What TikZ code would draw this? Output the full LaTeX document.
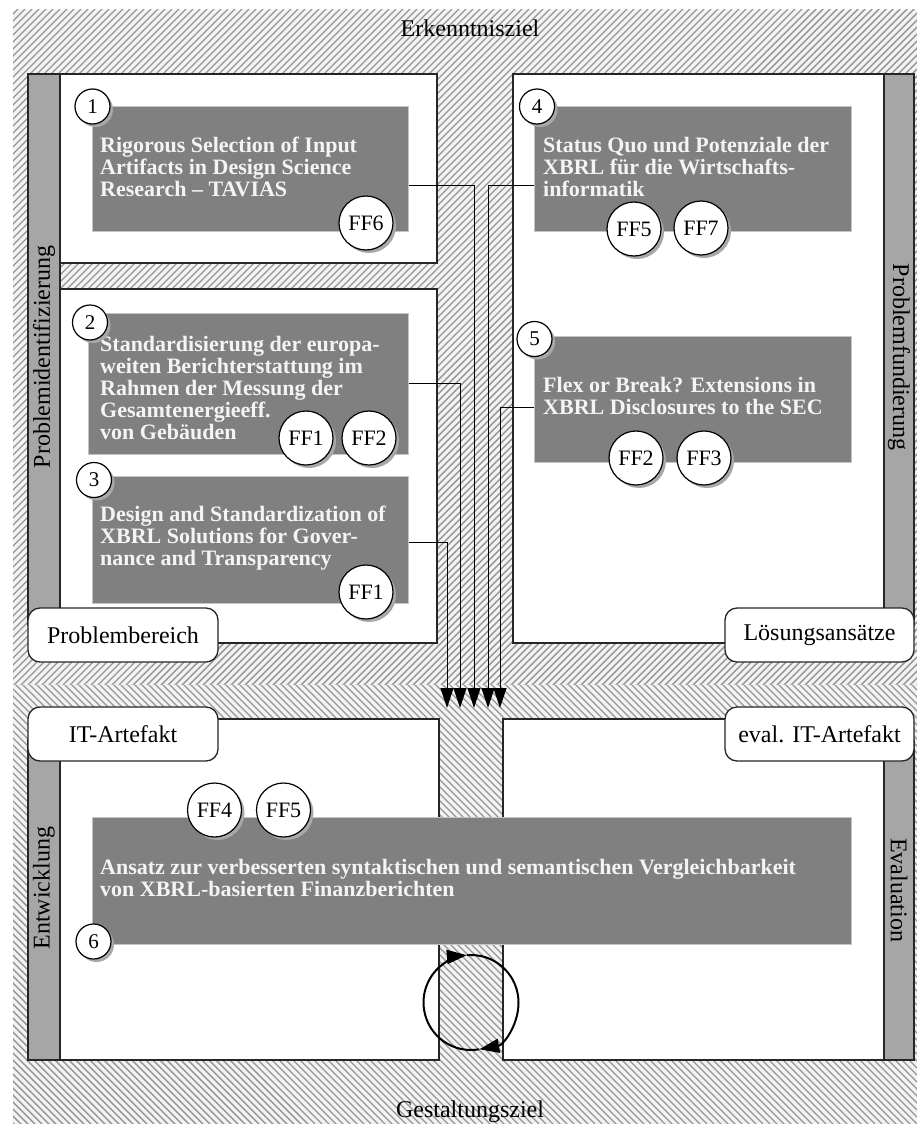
\documentclass[tikz,border=0pt]{standalone}
\usepackage{fontspec}
\setmainfont{Liberation Serif}
\usetikzlibrary{arrows.meta,shadows}

\definecolor{hatchbg}{HTML}{F3F3F3}
\definecolor{hatchline}{HTML}{959595}
\definecolor{framecol}{HTML}{262626}
\definecolor{barcol}{HTML}{A6A6A6}
\definecolor{cardcol}{HTML}{808080}
\definecolor{cardedge}{HTML}{C4C4C4}
\definecolor{cardink}{HTML}{F4F4F4}
\definecolor{shadowcol}{HTML}{A8A8A8}

% zero-width strut fixing the top of the first text line
\newcommand{\topstrut}{\rule{0pt}{17pt}}

\tikzset{
  hatchstroke/.style={draw=hatchline, line width=1.4pt},
  panel/.style={draw=framecol, line width=1.3pt, fill=white},
  sidebar/.style={draw=framecol, line width=1.3pt, fill=barcol},
  tag/.style={draw=framecol, line width=1.3pt, fill=white, rounded corners=12pt,
    minimum height=54pt, inner sep=0pt, font=\fontsize{24}{28}\selectfont},
  sidelabel/.style={inner sep=0pt, font=\fontsize{24}{28}\selectfont},
  goal/.style={inner sep=0pt, anchor=base, font=\fontsize{24}{28}\selectfont},
  card/.style={draw=cardedge, line width=1pt, fill=cardcol, inner sep=0pt},
  cardtext/.style={anchor=north west, inner sep=0pt, align=left, text=cardink,
    font=\fontsize{22}{22}\selectfont\bfseries},
  badge/.style={circle, draw=black, line width=1.2pt, fill=white, inner sep=0pt,
    drop shadow={shadow xshift=3pt, shadow yshift=-3pt, fill=shadowcol, opacity=1}},
  numbadge/.style={badge, minimum size=35pt, font=\fontsize{21}{24}\selectfont},
  ffbadge/.style={badge, minimum size=54pt, font=\fontsize{22}{24}\selectfont},
  flow/.style={draw=black, line width=1pt, -{Triangle[length=20pt,width=13pt]}},
  cyclearrow/.style={draw=black, line width=2pt, -{Triangle[length=20pt,width=14pt]}},
}

\begin{document}
\begin{tikzpicture}[x=1pt, y=-1pt]
\useasboundingbox (0,0) rectangle (917,1124);

% hatched background: knowledge goal above, design goal below
\begin{scope}
  \clip (13,10) rectangle (917,685);
  \fill[hatchbg] (13,10) rectangle (917,685);
  \foreach \k in {0,...,232} \draw[hatchstroke] ({-677+7*\k},690) -- ++(700,-700);
\end{scope}
\begin{scope}
  \clip (13,685) rectangle (917,1124);
  \fill[hatchbg] (13,685) rectangle (917,1124);
  \foreach \k in {0,...,202} \draw[hatchstroke] ({-437+7*\k},680) -- ++(450,450);
\end{scope}

% quadrant panels and side bars
\draw[panel] (60,74) rectangle (437,263);
\draw[panel] (60,289) rectangle (437,643);
\draw[sidebar] (28,74) rectangle (60,625);
\draw[panel] (513,74) rectangle (884,643);
\draw[sidebar] (884,74) rectangle (914,625);
\draw[panel] (60,719) rectangle (439,1060);
\draw[sidebar] (28,740) rectangle (60,1060);
\draw[panel] (503,719) rectangle (884,1060);
\draw[sidebar] (884,740) rectangle (914,1060);

% contribution cards
\node[card, minimum width=316pt, minimum height=125pt] (box1) at (250,168.5) {};
\node[card, minimum width=320pt, minimum height=141pt] (box2) at (248,383.5) {};
\node[card, minimum width=316pt, minimum height=127pt] (box3) at (250,539.5) {};
\node[card, minimum width=317pt, minimum height=125pt] (box4) at (692.5,168.5) {};
\node[card, minimum width=317pt, minimum height=126pt] (box5) at (692.5,399) {};
\node[card, minimum width=759pt, minimum height=127pt] (box6) at (471.5,880.5) {};

\node[cardtext] (txt1) at (100,135) {\topstrut Rigorous Selection of Input\\Artifacts in Design Science\\Research – TAVIAS};
\node[cardtext] (txt2) at (100,334) {\topstrut Standardisierung der europa-\\weiten Berichterstattung im\\Rahmen der Messung der\\Gesamtenergieeff.\\von Gebäuden};
\node[cardtext] (txt3) at (100,504) {\topstrut Design and Standardization of\\XBRL Solutions for Gover-\\nance and Transparency};
\node[cardtext] (txt4) at (543,135) {\topstrut Status Quo und Potenziale der\\XBRL für die Wirtschafts-\\informatik};
\node[cardtext] (txt5) at (543,375) {\topstrut Flex or Break? Extensions in\\XBRL Disclosures to the SEC};
\node[cardtext] (txt6) at (100,857) {\topstrut Ansatz zur verbesserten syntaktischen und semantischen Vergleichbarkeit\\von XBRL-basierten Finanzberichten};

% connectors into the artefact
\coordinate (in3) at (447,708);
\coordinate (in2) at (460,708);
\coordinate (in1) at (474,708);
\coordinate (in4) at (488,708);
\coordinate (in5) at (500,708);
\draw[flow] ([yshift=-16.5pt]box1.east) -| (in1);
\draw[flow] (box2.east) -| (in2);
\draw[flow] ([yshift=-2.5pt]box3.east) -| (in3);
\draw[flow] ([yshift=-16.5pt]box4.west) -| (in4);
\draw[flow] ([yshift=-8pt]box5.west) -| (in5);

% number badges
\node[numbadge] (n1) at (92.5,106.5) {1};
\node[numbadge] (n2) at (90,322.5) {2};
\node[numbadge] (n3) at (94,480) {3};
\node[numbadge] (n4) at (537,106.5) {4};
\node[numbadge] (n5) at (534.5,339) {5};
\node[numbadge] (n6) at (93.5,941.5) {6};

% research question badges
\node[ffbadge] (q1) at (366,223) {FF6};
\node[ffbadge] (q2) at (306,438) {FF1};
\node[ffbadge] (q3) at (369,438) {FF2};
\node[ffbadge] (q4) at (366,592) {FF1};
\node[ffbadge] (q5) at (634,229) {FF5};
\node[ffbadge] (q6) at (701,228) {FF7};
\node[ffbadge] (q7) at (636,458) {FF2};
\node[ffbadge] (q8) at (704,458) {FF3};
\node[ffbadge] (q9) at (214.5,810) {FF4};
\node[ffbadge] (q10) at (283.5,810) {FF5};

% quadrant tags
\node[tag, minimum width=190pt] (tagPB) at (123,635) {Problembereich};
\node[tag, minimum width=189pt] (tagLA) at (819.5,635) {Lösungsansätze};
\node[tag, minimum width=190pt] (tagIT) at (123,734) {IT-Artefakt};
\node[tag, minimum width=189pt] (tagEIT) at (819.5,734) {eval. IT-Artefakt};

% side bar captions
\node[sidelabel, rotate=90] (capPI) at (44,357) {Problemidentifizierung};
\node[sidelabel, rotate=-90] (capPF) at (899,357) {Problemfundierung};
\node[sidelabel, rotate=90] (capEW) at (44,888) {Entwicklung};
\node[sidelabel, rotate=-90] (capEV) at (899,890) {Evaluation};

% goals
\node[goal] (goalK) at (470,37) {Erkenntnisziel};
\node[goal] (goalG) at (470,1117) {Gestaltungsziel};

% build / evaluate cycle
\coordinate (cyc) at (471,1002.5);
\draw[cyclearrow] (cyc) ++(-95:47.5) arc[start angle=-95, end angle=80, radius=47.5];
\draw[cyclearrow] (cyc) ++(80:47.5) arc[start angle=80, end angle=265, radius=47.5];
\end{tikzpicture}
\end{document}
